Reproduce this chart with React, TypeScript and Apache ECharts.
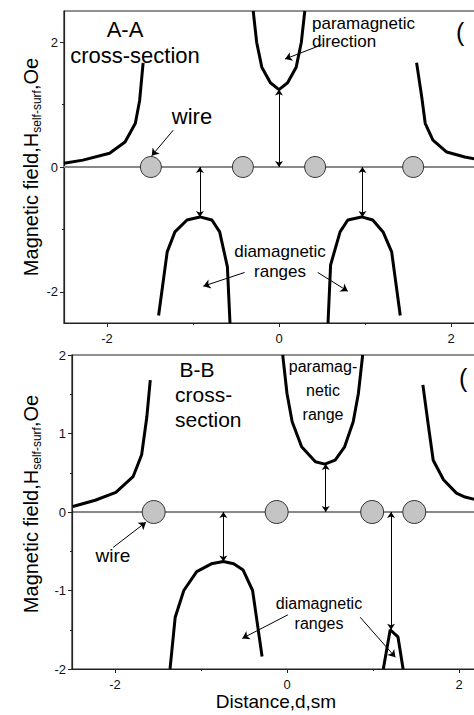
import React, { useEffect, useRef } from "react";
import * as echarts from "echarts";

const FONT = "Liberation Sans, Arial, sans-serif";

// ---------- Panel A-A (top) ----------
const topLeftCurve = [[-2.5, 0.06], [-2.28, 0.11], [-1.97, 0.22], [-1.79, 0.40], [-1.67, 0.70], [-1.62, 1.07], [-1.58, 1.67]];
const topCenterCurve = [[-0.30, 2.5], [-0.26, 2.0], [-0.2, 1.6], [-0.1, 1.35], [0, 1.24], [0.1, 1.35], [0.2, 1.6], [0.26, 2.0], [0.30, 2.5]];
const topRightCurve = [[1.60, 1.67], [1.66, 1.12], [1.70, 0.70], [1.79, 0.43], [1.95, 0.24], [2.16, 0.16], [2.5, 0.07]];
const topDomeLeft = [[-1.40, -2.38], [-1.30, -1.36], [-1.21, -1.04], [-1.07, -0.85], [-0.92, -0.80], [-0.78, -0.85], [-0.69, -1.04], [-0.60, -1.60], [-0.57, -2.5]];
const topDomeRight = [[0.57, -2.5], [0.60, -1.57], [0.71, -1.04], [0.80, -0.85], [0.96, -0.80], [1.09, -0.85], [1.21, -1.04], [1.31, -1.36], [1.41, -2.38]];
const topWires = [-1.49, -0.42, 0.42, 1.56];
const topGaps = [[[0, 0], [0, 1.24]], [[-0.92, 0], [-0.92, -0.80]], [[0.97, 0], [0.97, -0.80]]];
const topPointers = [
  [[-1.23, 0.59], [-1.48, 0.18]],
  [[0.50, 1.96], [0.07, 1.73]],
  [[-0.40, -1.69], [-0.88, -1.91]],
  [[0.45, -1.69], [0.80, -1.99]],
];

// ---------- Panel B-B (bottom) ----------
const botLeftCurve = [[-2.49, 0.07], [-2.23, 0.15], [-1.99, 0.25], [-1.79, 0.45], [-1.69, 0.73], [-1.63, 1.21], [-1.59, 1.68]];
const botCenterCurve = [[-0.05, 2.0], [0.0, 1.51], [0.06, 1.15], [0.17, 0.83], [0.33, 0.64], [0.44, 0.61], [0.56, 0.66], [0.67, 0.83], [0.77, 1.15], [0.83, 1.51], [0.88, 2.0]];
const botRightCurve = [[1.58, 1.62], [1.64, 1.13], [1.70, 0.66], [1.82, 0.41], [1.97, 0.24], [2.07, 0.19], [2.5, 0.08]];
const botDome = [[-1.36, -2.0], [-1.30, -1.34], [-1.20, -1.0], [-1.05, -0.76], [-0.88, -0.66], [-0.74, -0.63], [-0.62, -0.66], [-0.51, -0.74], [-0.40, -1.0], [-0.29, -1.84]];
const botSpike = [[1.12, -2.0], [1.20, -1.50], [1.29, -1.59], [1.35, -2.0]];
const botWires = [-1.55, -0.12, 0.99, 1.48];
const botGaps = [[[-0.74, 0], [-0.74, -0.63]], [[0.45, 0], [0.45, 0.61]], [[1.21, 0], [1.21, -1.50]]];
const botPointers = [
  [[-2.02, -0.45], [-1.64, -0.13]],
  [[0.01, -1.31], [-0.52, -1.61]],
  [[0.85, -1.34], [1.26, -1.85]],
];

const zeroLine = [[-2.5, 0], [2.5, 0]];
const xMajor = [-2, 0, 2];
const xMinor = [-1, 1];
const yMajorTop = [-2, 0, 2];
const yMinorTop = [-1, 1];

const yName = "{m|Magnetic field,H}{s|self-surf}{m|,Oe}";
const yNameRich = {
  m: { fontSize: 20, fontFamily: FONT, color: "#000", lineHeight: 22, verticalAlign: "top", padding: [0, 0, 7, 0] },
  s: { fontSize: 12, fontFamily: FONT, color: "#000", lineHeight: 12, verticalAlign: "bottom" },
};

function App() {
  const ref = useRef<HTMLDivElement>(null);
  useEffect(() => {
    if (!ref.current) return;
    const chart = echarts.init(ref.current, null, { renderer: "svg" });
    const axisLine = { show: true, onZero: false, lineStyle: { color: "#222", width: 1.2 } };
    const noLine = { show: false, onZero: false };
    const label = { fontSize: 13, fontFamily: FONT, color: "#111" };

    const curve = (data: number[][], gi: number) => ({
      type: "line",
      xAxisIndex: gi * 2,
      yAxisIndex: gi * 2,
      data,
      symbol: "none",
      showSymbol: false,
      lineStyle: { color: "#000", width: 3 },
      z: 3,
      silent: true,
    });
    const base = (gi: number, color: string, width: number) => ({
      type: "line",
      xAxisIndex: gi * 2,
      yAxisIndex: gi * 2,
      data: zeroLine,
      symbol: "none",
      lineStyle: { color, width },
      z: 1,
      silent: true,
    });
    const wires = (xs: number[], gi: number, size: number) => ({
      type: "scatter",
      xAxisIndex: gi * 2,
      yAxisIndex: gi * 2,
      data: xs.map((x) => [x, 0]),
      symbol: "circle",
      symbolSize: size,
      itemStyle: { color: "#c4c4c4", borderColor: "#333", borderWidth: 1, opacity: 1 },
      z: 5,
      silent: true,
    });
    const arrows = (segs: number[][][], gi: number, both: boolean) => ({
      type: "lines",
      coordinateSystem: "cartesian2d",
      xAxisIndex: gi * 2,
      yAxisIndex: gi * 2,
      data: segs.map((c) => ({ coords: c })),
      symbol: both ? ["arrow", "arrow"] : ["none", "arrow"],
      symbolSize: both ? 6 : 7,
      lineStyle: { color: "#000", width: 1, opacity: 1, curveness: 0 },
      z: 4,
      silent: true,
    });

    const text = (x: number, y: number, t: string, size: number, align = "center", lh?: number, va = "middle") => ({
      type: "text",
      x,
      y,
      silent: true,
      style: {
        text: t,
        fontSize: size,
        fontFamily: FONT,
        fill: "#000",
        align,
        verticalAlign: va,
        lineHeight: lh || size + 2,
      },
    });

    chart.setOption({
      animation: false,
      backgroundColor: "#fff",
      grid: [
        { left: 64, top: 11, width: 430, height: 312, outerBoundsMode: "none", containLabel: false, show: true, borderColor: "#222", borderWidth: 1.2, backgroundColor: "transparent" },
        { left: 72, top: 355, width: 430, height: 314, outerBoundsMode: "none", containLabel: false, show: true, borderColor: "#222", borderWidth: 1.2, backgroundColor: "transparent" },
      ],
      xAxis: [
        {
          gridIndex: 0, type: "value", min: -2.5, max: 2.5, position: "bottom",
          axisLine, splitLine: { show: false },
          axisTick: { show: true, inside: false, length: 4, customValues: xMajor, lineStyle: { color: "#222" } },
          axisLabel: { ...label, customValues: xMajor, margin: 9 },
        },
        {
          gridIndex: 0, type: "value", min: -2.5, max: 2.5, position: "bottom",
          axisLine: noLine, splitLine: { show: false }, axisLabel: { show: false },
          axisTick: { show: true, inside: false, length: 2, customValues: xMinor, lineStyle: { color: "#222" } },
        },
        {
          gridIndex: 1, type: "value", min: -2.5, max: 2.5, position: "bottom",
          axisLine, splitLine: { show: false },
          axisTick: { show: true, inside: false, length: 4, customValues: xMajor, lineStyle: { color: "#222" } },
          axisLabel: { ...label, customValues: xMajor, margin: 9 },
          name: "Distance,d,sm", nameLocation: "middle", nameGap: 23, nameMoveOverlap: false,
          nameTextStyle: { fontSize: 19, fontFamily: FONT, color: "#000", padding: [0, 22, 0, 0] },
        },
        {
          gridIndex: 1, type: "value", min: -2.5, max: 2.5, position: "bottom",
          axisLine: noLine, splitLine: { show: false }, axisLabel: { show: false },
          axisTick: { show: true, inside: false, length: 2, customValues: xMinor, lineStyle: { color: "#222" } },
        },
      ],
      yAxis: [
        {
          gridIndex: 0, type: "value", min: -2.5, max: 2.5, position: "left",
          axisLine, splitLine: { show: false },
          axisTick: { show: true, inside: false, length: 4, customValues: yMajorTop, lineStyle: { color: "#222" } },
          axisLabel: { ...label, customValues: yMajorTop, margin: 6 },
          name: yName, nameLocation: "middle", nameRotate: 90, nameGap: 21, nameMoveOverlap: false,
          nameTextStyle: { rich: yNameRich },
        },
        {
          gridIndex: 0, type: "value", min: -2.5, max: 2.5, position: "left",
          axisLine: noLine, splitLine: { show: false }, axisLabel: { show: false },
          axisTick: { show: true, inside: false, length: 2, customValues: yMinorTop, lineStyle: { color: "#222" } },
        },
        {
          gridIndex: 1, type: "value", min: -2, max: 2, interval: 1, position: "left",
          axisLine, splitLine: { show: false },
          axisTick: { show: true, inside: false, length: 4, lineStyle: { color: "#222" } },
          minorTick: { show: true, splitNumber: 2, length: 2, lineStyle: { color: "#222" } },
          axisLabel: { ...label, margin: 6 },
          name: yName, nameLocation: "middle", nameRotate: 90, nameGap: 29, nameMoveOverlap: false,
          nameTextStyle: { rich: yNameRich, padding: [0, 0, 0, 16] },
        },
        {
          gridIndex: 1, type: "value", min: -2, max: 2, position: "left",
          axisLine: noLine, splitLine: { show: false }, axisLabel: { show: false }, axisTick: { show: false },
        },
      ],
      series: [
        base(0, "#888", 2),
        base(1, "#111", 1),
        curve(topLeftCurve, 0),
        curve(topCenterCurve, 0),
        curve(topRightCurve, 0),
        curve(topDomeLeft, 0),
        curve(topDomeRight, 0),
        curve(botLeftCurve, 1),
        curve(botCenterCurve, 1),
        curve(botRightCurve, 1),
        curve(botDome, 1),
        curve(botSpike, 1),
        arrows(topGaps, 0, true),
        arrows(topPointers, 0, false),
        arrows(botGaps, 1, true),
        arrows(botPointers, 1, false),
        wires(topWires, 0, 21),
        wires(botWires, 1, 23),
      ],
      graphic: [
        text(125, 29, "A-A", 22),
        text(135, 55, "cross-section", 22),
        text(192, 116, "wire", 22),
        text(312, 14, "paramagnetic\ndirection", 17, "left", 18, "top"),
        text(280, 241, "diamagnetic\nranges", 17, "center", 20, "top"),
        text(456, 18, "(", 25, "left", 27, "top"),
        text(197, 369, "B-B", 21),
        text(175, 382, "cross-\nsection", 21, "left", 25, "top"),
        text(323, 390, "paramag-\nnetic\nrange", 16, "center", 24),
        text(113, 555, "wire", 19),
        text(319, 613, "diamagnetic\nranges", 16, "center", 20),
        text(459, 364, "(", 25, "left", 27, "top"),
      ],
    });
    return () => chart.dispose();
  }, []);
  return (
    <div
      ref={ref}
      style={{ position: "fixed", left: 0, top: 0, width: 474, height: 715, background: "#fff" }}
    />
  );
}

export default App;
